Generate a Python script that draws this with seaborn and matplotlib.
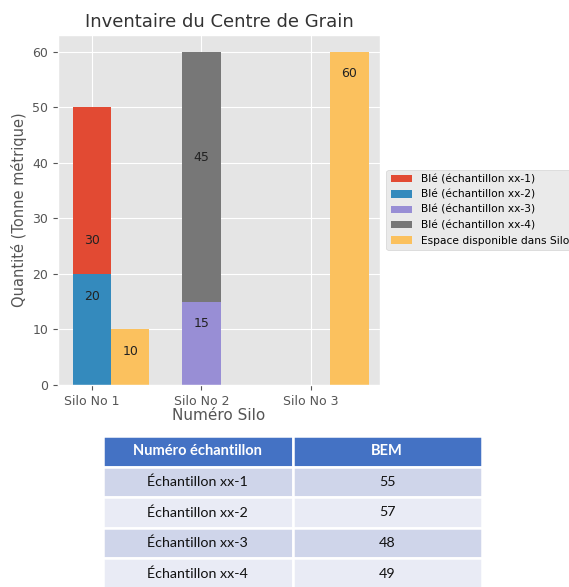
import matplotlib
matplotlib.use("Agg")
import matplotlib.pyplot as plt
import seaborn as sns

# ── Data ──────────────────────────────────────────────────────────
SILOS = ["Silo No 1", "Silo No 2", "Silo No 3"]
XX1 = [30, 0, 0]
XX2 = [20, 0, 0]
XX3 = [0, 15, 0]
XX4 = [0, 45, 0]
ESPACE = [10, 0, 60]

SAMPLES = ["Échantillon xx-1", "Échantillon xx-2", "Échantillon xx-3", "Échantillon xx-4"]
BEM = [55, 57, 48, 49]

plt.style.use("ggplot")
colors = plt.rcParams["axes.prop_cycle"].by_key()["color"]

WIDTH = 0.35


def draw_series(ax, values, label, color, offset=0.0, bottom=None):
    first = True
    for i, v in enumerate(values):
        if v == 0:
            continue
        b = bottom[i] if bottom is not None else 0
        sns.barplot(x=[i + offset], y=[v], native_scale=True, width=WIDTH,
                    bottom=b, color=color, saturation=1, linewidth=0,
                    errorbar=None, label=label if first else None, ax=ax)
        ax.text(i + offset, v - 4, str(v), ha="center", va="center",
                fontsize=9, color="#222222")
        first = False


fig = plt.figure(figsize=(5.69, 5.87), dpi=100)
ax = fig.add_axes([58 / 569, 1 - 385 / 587, 322 / 569, 350 / 587])

draw_series(ax, XX1, "Blé (échantillon xx-1)", colors[0], bottom=XX2)
draw_series(ax, XX2, "Blé (échantillon xx-2)", colors[1])
draw_series(ax, XX3, "Blé (échantillon xx-3)", colors[2])
draw_series(ax, XX4, "Blé (échantillon xx-4)", colors[3], bottom=XX3)
draw_series(ax, ESPACE, "Espace disponible dans Silo", colors[4], offset=WIDTH)

ax.set_xticks(range(len(SILOS)))
ax.set_xticklabels(SILOS)
ax.tick_params(labelsize=9)
ax.set_xlim(-0.31, 2.63)
ax.set_ylim(0, 63)
ax.set_title("Inventaire du Centre de Grain", color="#333333", fontsize=13)
ax.set_xlabel("Numéro Silo", fontsize=11, labelpad=0)
ax.set_ylabel("Quantité (Tonne métrique)", fontsize=10.5)
ax.legend(loc="center left", bbox_to_anchor=(1.01, 0.5), fontsize=7.7,
          frameon=True, borderaxespad=0.3)

# ── Table ─────────────────────────────────────────────────────────
tax = fig.add_axes([103 / 569, 1 - 589 / 587, 379 / 569, 153 / 587])
tax.axis("off")
cells = [[s, str(b)] for s, b in zip(SAMPLES, BEM)]
tbl = tax.table(cellText=cells, colLabels=["Numéro échantillon", "BEM"],
                cellLoc="center", bbox=[0, 0, 1, 1])
tbl.auto_set_font_size(False)
row_colors = ["#CFD5EA", "#E9EBF5"]
for (r, c), cell in tbl.get_celld().items():
    cell.set_edgecolor("white")
    cell.set_linewidth(1.8)
    txt = cell.get_text()
    txt.set_fontfamily("Lato")
    if r == 0:
        cell.set_facecolor("#4472C4")
        txt.set_color("white")
        txt.set_fontweight("bold")
        txt.set_fontsize(10.5)
    else:
        cell.set_facecolor(row_colors[(r - 1) % 2])
        txt.set_color("#111111")
        txt.set_fontsize(10.3)

fig.savefig("out.png", dpi=100)
